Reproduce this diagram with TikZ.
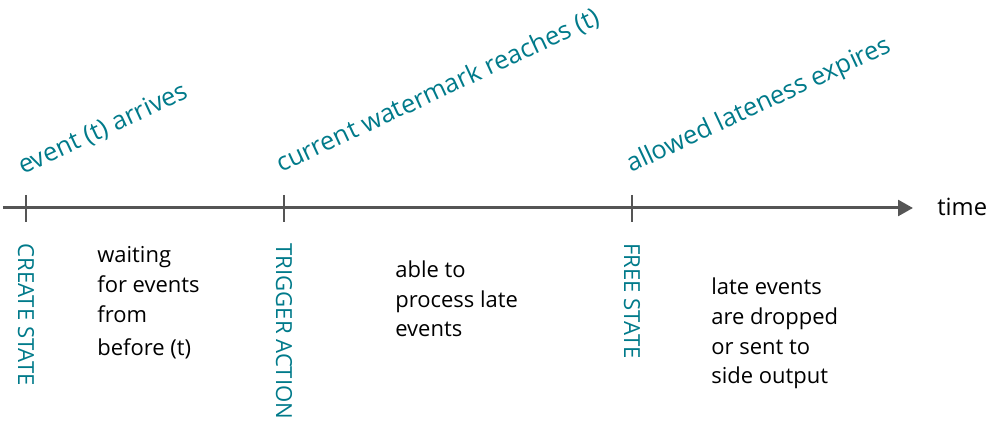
\documentclass[tikz,border=0pt]{standalone}
\usepackage{fontspec}
\setmainfont{Open Sans}
\usetikzlibrary{arrows.meta}
\definecolor{evtteal}{RGB}{0,122,138}
\definecolor{axisgray}{RGB}{85,85,85}

\begin{document}
\begin{tikzpicture}[
  >={Triangle[length=8.5pt,width=9pt]},
  evtlabel/.style={rotate=25, anchor=base west, inner sep=0pt, text=evtteal,
    font=\fontsize{14.5}{17}\selectfont},
  statelabel/.style={rotate=-90, anchor=west, inner sep=0pt, text=evtteal,
    font=\fontsize{12.6}{14}\selectfont},
  notetext/.style={anchor=base west, inner sep=0pt, align=left,
    font=\fontsize{12.5}{17}\selectfont},
  tickmark/.style={axisgray, line width=1.2pt}]
  \useasboundingbox (0,0) rectangle (19.88,8.52);

  % time axis
  \coordinate (t0) at (0.06,4.36);
  \coordinate (tend) at (18.26,4.36);
  \draw[->, axisgray, line width=1.7pt] (t0) -- (tend);
  \node[anchor=base west, inner sep=0pt, font=\fontsize{13.5}{16}\selectfont] (time) at (18.74,4.2) {time};

  % ticks
  \coordinate (create) at (0.52,4.36);
  \coordinate (trigger) at (5.68,4.36);
  \coordinate (free) at (12.64,4.36);
  \draw[tickmark] ([yshift=0.26cm]create) -- ([yshift=-0.28cm]create);
  \draw[tickmark] ([yshift=0.26cm]trigger) -- ([yshift=-0.28cm]trigger);
  \draw[tickmark] ([yshift=0.26cm]free) -- ([yshift=-0.28cm]free);

  % what happens
  \node[evtlabel] (arrives) at (0.46,5.02) {event (t) arrives};
  \node[evtlabel] (reaches) at (5.62,5.06) {current watermark reaches (t)};
  \node[evtlabel] (expires) at (12.62,5.06) {allowed lateness expires};

  % state actions
  \node[statelabel] (createlbl) at (0.52,3.66) {CREATE STATE};
  \node[statelabel] (triggerlbl) at (5.68,3.66) {TRIGGER ACTION};
  \node[statelabel] (freelbl) at (12.64,3.66) {FREE STATE};

  % notes between ticks (base = last line)
  \node[notetext] (waiting) at (1.94,1.40) {waiting\\ for events\\ from\\[2pt] before (t)};
  \node[notetext] (able) at (7.90,1.78) {able to\\ process late\\ events};
  \node[notetext] (dropped) at (14.22,0.84) {late events\\ are dropped\\ or sent to\\ side output};
\end{tikzpicture}
\end{document}
